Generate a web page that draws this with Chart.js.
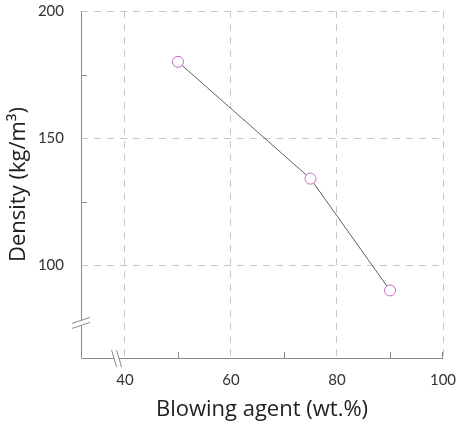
<!DOCTYPE html>
<html>
<head>
<meta charset="utf-8">
<script src="https://cdn.jsdelivr.net/npm/chart.js@4/dist/chart.umd.min.js"></script>
<style>
  html, body { margin: 0; padding: 0; background: #fff; }
  #wrap { width: 456px; height: 425px; }
</style>
</head>
<body>
<div id="wrap"><canvas id="densityChart"></canvas></div>
<script>
const agent = [50, 75, 90];
const density = [180, 134, 90];
const xMinor = [50, 70, 90, 100];
const xLabeled = [40, 60, 80, 100];
const yMinor = [125, 175];
const yLabeled = [100, 150, 200];

const axisGray = "#8a8a8a";
const gridGray = "#c8c8c8";

// minor inward ticks, solid axis lines and the break marks
const axisExtras = {
	id: "axisExtras",
	afterDraw(chart) {
		const { ctx, chartArea: a, scales: { x, y } } = chart;
		ctx.save();
		ctx.strokeStyle = axisGray;
		ctx.lineWidth = 1;
		ctx.setLineDash([]);
		ctx.beginPath();
		ctx.moveTo(a.left + 0.5, a.top);
		ctx.lineTo(a.left + 0.5, a.bottom + 0.5);
		ctx.lineTo(a.right, a.bottom + 0.5);
		ctx.stroke();

		ctx.beginPath();
		xMinor.forEach(v => {
			const px = Math.min(Math.round(x.getPixelForValue(v)), a.right - 1) + 0.5;
			ctx.moveTo(px, a.bottom);
			ctx.lineTo(px, a.bottom - 6);
		});
		yMinor.forEach(v => {
			const py = Math.round(y.getPixelForValue(v)) + 0.5;
			ctx.moveTo(a.left, py);
			ctx.lineTo(a.left + 6, py);
		});
		ctx.stroke();

		// y break
		const by = y.getPixelForValue(77);
		ctx.fillStyle = "#fff";
		ctx.beginPath();
		ctx.moveTo(a.left - 9, by + 5);
		ctx.lineTo(a.left + 9, by - 1);
		ctx.lineTo(a.left + 9, by - 6);
		ctx.lineTo(a.left - 9, by);
		ctx.closePath();
		ctx.fill();
		ctx.beginPath();
		ctx.moveTo(a.left - 9, by + 5);
		ctx.lineTo(a.left + 9, by - 1);
		ctx.moveTo(a.left - 9, by);
		ctx.lineTo(a.left + 9, by - 6);
		ctx.stroke();

		// x break
		const bx = x.getPixelForValue(38.6);
		ctx.beginPath();
		ctx.moveTo(bx - 6, a.bottom - 8);
		ctx.lineTo(bx - 1, a.bottom + 9);
		ctx.lineTo(bx + 4, a.bottom + 9);
		ctx.lineTo(bx - 1, a.bottom - 8);
		ctx.closePath();
		ctx.fill();
		ctx.beginPath();
		ctx.moveTo(bx - 6, a.bottom - 8);
		ctx.lineTo(bx - 1, a.bottom + 9);
		ctx.moveTo(bx - 1, a.bottom - 8);
		ctx.lineTo(bx + 4, a.bottom + 9);
		ctx.stroke();
		ctx.restore();
	}
};

const densityChart = new Chart(document.getElementById("densityChart"), {
	type: "scatter",
	data: {
		datasets: [{
			data: agent.map((v, i) => ({ x: v, y: density[i] })),
			showLine: true,
			borderColor: "#606060",
			borderWidth: 1,
			pointRadius: 5.5,
			pointBorderWidth: 1,
			pointBorderColor: "#cc66c4",
			pointBackgroundColor: "#fff",
		}],
	},
	options: {
		responsive: true,
		maintainAspectRatio: false,
		animation: false,
		layout: { padding: { top: 11, right: 13, left: 0, bottom: 0 } },
		plugins: {
			legend: { display: false },
			tooltip: { enabled: false },
		},
		scales: {
			x: {
				type: "linear",
				min: 31.7,
				max: 100,
				afterBuildTicks: s => { s.ticks = xLabeled.map(v => ({ value: v })); },
				afterFit: s => { s.height = 67; s.paddingLeft = 0; s.paddingRight = 0; },
				ticks: { color: "#333", font: { family: "Lato", size: 15 }, padding: 13, maxRotation: 0 },
				grid: { color: gridGray, drawTicks: false },
				border: { display: false, dash: [7, 6] },
				title: { display: true, text: "Blowing agent (wt.%)", color: "#222", font: { family: "Open Sans", size: 22 }, padding: { top: 4, bottom: 2 } },
			},
			y: {
				min: 63.4,
				max: 200,
				afterBuildTicks: s => { s.ticks = yLabeled.map(v => ({ value: v })); },
				afterFit: s => { s.width = 81; s.paddingTop = 0; s.paddingBottom = 0; },
				ticks: { color: "#333", font: { family: "Lato", size: 15 }, padding: 17 },
				grid: { color: gridGray, drawTicks: false },
				border: { display: false, dash: [7, 6] },
				title: { display: true, text: "Density (kg/m³)", color: "#222", font: { family: "Open Sans", size: 22 }, padding: { top: 6, bottom: 6 } },
			},
		},
	},
	plugins: [axisExtras],
});
</script>
</body>
</html>
